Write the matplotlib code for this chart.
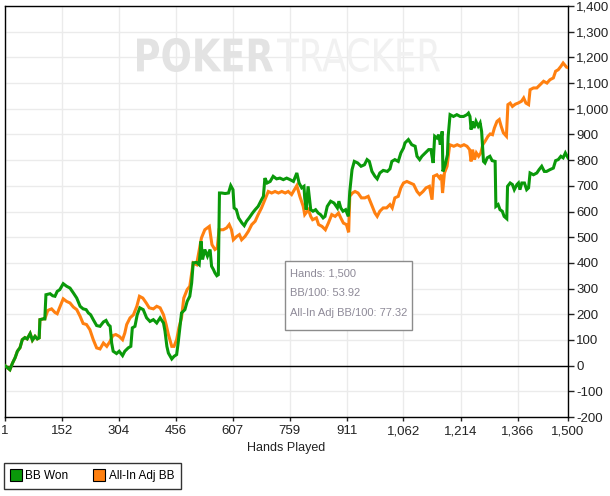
import matplotlib
matplotlib.use("Agg")
import matplotlib.pyplot as plt
from matplotlib.lines import Line2D
from matplotlib.patches import PathPatch, Rectangle
from matplotlib.textpath import TextPath
from matplotlib.font_manager import FontProperties
from matplotlib.transforms import Affine2D

# ---- data (hands played, cumulative BB) ----
hands_won = [1, 14, 21, 28, 34, 41, 47, 54, 60, 68, 74, 81, 87, 92, 94, 103, 107, 110,
             121, 128, 134, 140, 147, 156, 165, 174, 183, 192, 201, 209, 217, 223, 229,
             236, 245, 254, 263, 270, 276, 281, 285, 289, 298, 305, 314, 320, 329, 336,
             340, 347, 353, 360, 369, 378, 387, 396, 405, 414, 423, 427, 432, 436, 445,
             451, 458, 462, 471, 480, 486, 493, 498, 502, 511, 518, 523, 527, 533, 540,
             547, 551, 556, 560, 565, 569, 572, 578, 587, 596, 602, 608, 611, 617, 623,
             632, 638, 644, 651, 660, 667, 675, 684, 689, 693, 699, 707, 715, 724, 733,
             742, 751, 760, 769, 778, 784, 791, 797, 799, 803, 808, 812, 815, 821, 828,
             835, 841, 848, 853, 859, 868, 877, 886, 890, 895, 901, 908, 915, 919, 925,
             931, 940, 949, 958, 965, 971, 978, 986, 992, 999, 1008, 1019, 1026, 1031,
             1039, 1048, 1055, 1062, 1066, 1075, 1084, 1093, 1098, 1105, 1111, 1120,
             1129, 1135, 1141, 1145, 1151, 1156, 1160, 1165, 1167, 1173, 1179, 1181,
             1186, 1195, 1204, 1213, 1222, 1231, 1235, 1239, 1242, 1245, 1250, 1255,
             1261, 1266, 1270, 1275, 1279, 1285, 1292, 1298, 1306, 1308, 1314, 1319,
             1325, 1330, 1337, 1339, 1346, 1352, 1357, 1364, 1368, 1372, 1377, 1384,
             1390, 1395, 1399, 1408, 1417, 1423, 1430, 1437, 1443, 1452, 1461, 1467,
             1474, 1481, 1487, 1493, 1500]
bb_won = [0, -16, 10, 31, 56, 70, 101, 109, 104, 125, 99, 114, 104, 108, 179, 182, 182, 276,
          280, 272, 270, 289, 296, 319, 309, 302, 283, 263, 231, 221, 218, 205, 198,
          179, 156, 153, 170, 176, 160, 153, 88, 56, 47, 56, 39, 56, 69, 75,
          147, 153, 198, 225, 218, 186, 172, 179, 166, 186, 166, 134, 75, 49, 26,
          36, 43, 88, 205, 218, 250, 270, 322, 400, 402, 393, 484, 413, 452, 426,
          452, 387, 374, 361, 350, 354, 672, 672, 670, 672, 701, 685, 614, 607, 575,
          555, 545, 562, 575, 594, 607, 620, 646, 659, 730, 711, 717, 737, 727, 730,
          724, 730, 724, 717, 750, 711, 692, 698, 653, 607, 698, 646, 607, 601, 607,
          594, 588, 575, 581, 620, 640, 633, 614, 640, 614, 601, 607, 581, 678, 763,
          795, 789, 776, 782, 802, 795, 756, 737, 727, 750, 760, 756, 766, 795,
          802, 795, 828, 847, 867, 880, 860, 854, 815, 802, 815, 828,
          841, 841, 789, 893, 886, 899, 860, 912, 756, 782, 821, 893,
          977, 970, 977, 970, 970, 977, 983, 970, 919, 951, 925, 951,
          932, 945, 912, 795, 789, 809, 815, 798, 795, 620, 627, 607,
          601, 581, 572, 698, 711, 705, 685, 705, 711, 685, 711, 711,
          685, 692, 750, 743, 750, 763, 776, 756, 756, 763, 769, 798,
          802, 815, 809, 828, 809]

hands_adj = [1, 14, 21, 28, 34, 41, 47, 54, 60, 68, 74, 81, 87, 92, 94, 103, 107, 115,
             125, 134, 140, 147, 156, 165, 174, 183, 192, 201, 209, 218, 227, 236, 245,
             254, 263, 272, 281, 288, 296, 305, 314, 320, 325, 334, 343, 352, 359, 368,
             377, 385, 396, 405, 414, 423, 430, 436, 445, 451, 458, 464, 471, 477, 486,
             493, 502, 511, 524, 533, 545, 549, 552, 560, 566, 571, 582, 591, 598, 604,
             609, 618, 625, 631, 640, 649, 658, 667, 675, 684, 693, 702, 711, 720, 729,
             738, 747, 755, 764, 778, 786, 795, 799, 809, 815, 820, 830, 836, 845, 854,
             862, 871, 880, 889, 895, 902, 910, 916, 919, 926, 933, 941, 950, 959, 968,
             977, 986, 992, 999, 1008, 1017, 1026, 1032, 1039, 1048, 1055, 1062, 1071,
             1080, 1089, 1098, 1105, 1114, 1122, 1131, 1138, 1142, 1151, 1158, 1163,
             1166, 1171, 1178, 1185, 1196, 1205, 1214, 1223, 1231, 1238, 1242, 1246,
             1251, 1256, 1262, 1268, 1273, 1279, 1287, 1293, 1299, 1304, 1311, 1317,
             1322, 1328, 1336, 1340, 1346, 1352, 1360, 1367, 1376, 1382, 1388, 1395,
             1399, 1408, 1417, 1426, 1435, 1444, 1452, 1461, 1467, 1474, 1481, 1487,
             1496, 1500]
bb_adj = [0, -16, 10, 31, 56, 70, 101, 109, 104, 125, 99, 114, 104, 108, 179, 182, 182, 215,
          221, 207, 202, 228, 260, 250, 244, 228, 218, 192, 164, 160, 140, 101, 69,
          65, 88, 75, 95, 117, 121, 114, 101, 127, 160, 186, 198, 231, 270, 263,
          244, 225, 221, 231, 225, 198, 160, 121, 75, 75, 101, 147, 186, 263, 296,
          309, 400, 393, 497, 529, 542, 503, 471, 452, 458, 529, 529, 536, 549, 529,
          490, 503, 510, 490, 503, 523, 549, 562, 588, 614, 646, 678, 672, 678, 672,
          678, 672, 678, 666, 701, 659, 620, 588, 607, 581, 568, 575, 549, 542, 529,
          555, 588, 581, 594, 575, 555, 549, 519, 659, 672, 678, 672, 653, 653, 659,
          627, 594, 581, 601, 614, 614, 627, 614, 653, 659, 692, 711, 717,
          711, 705, 678, 666, 678, 692, 698, 646, 737, 743, 730, 743,
          672, 750, 776, 860, 854, 860, 854, 860, 854, 841, 795, 841,
          802, 828, 815, 828, 860, 873, 893, 902, 899, 925, 951, 958,
          932, 906, 893, 1016, 1022, 1009, 1018, 1022, 1029, 1042, 1022, 1016,
          1074, 1081, 1081, 1094, 1107, 1100, 1113, 1120, 1146, 1152, 1165, 1178,
          1162, 1160]

x_ticks = [1, 152, 304, 456, 607, 759, 911, 1062, 1214, 1366, 1500]
y_ticks = list(range(-200, 1401, 100))
series_names = ["BB Won", "All-In Adj BB"]
tooltip_lines = ["Hands: 1,500", "BB/100: 53.92", "All-In Adj BB/100: 77.32"]

GREEN = "#0a990a"
ORANGE = "#ff8010"
W, H = 610, 496

plt.rcParams["font.family"] = ["Liberation Sans", "DejaVu Sans"]
fig = plt.figure(figsize=(W / 100, H / 100), dpi=100)
ax = fig.add_axes([5 / W, 1 - 417 / H, 563 / W, 411 / H])

# watermark, squeezed into the box it occupies in the reference
def watermark(text, x0, x1, y0, y1, weight, color):
    tp = TextPath((0, 0), text, size=50, prop=FontProperties(family="DejaVu Sans", weight=weight))
    ext = tp.get_extents()
    sx = (x1 - x0) / ext.width
    sy = (y1 - y0) / ext.height
    tr = Affine2D().translate(-ext.x0, -ext.y0).scale(sx, sy).translate(x0, H - y1)
    fig.patches.append(PathPatch(tr.transform_path(tp), facecolor=color, edgecolor="none",
                                 transform=None, zorder=0))

watermark("POKER", 137, 273, 38, 72, "bold", "#e3e3e3")
watermark("TRACKER", 277, 440, 38, 72, "normal", "#f1f1f1")

ax.set_facecolor("none")
ax.set_xlim(1, 1500)
ax.set_ylim(-200, 1400)
ax.set_xticks(x_ticks)
ax.set_xticklabels([f"{t:,}" for t in x_ticks])
ax.set_yticks(y_ticks)
ax.set_yticklabels([f"{t:,}" for t in y_ticks])
ax.yaxis.tick_right()
ax.grid(True, color="#ebebeb", lw=1)
ax.set_axisbelow(True)
ax.tick_params(axis="y", length=4, width=1, pad=2, labelsize=9.5, colors="#222222")
ax.tick_params(axis="x", length=3, width=1, pad=3, labelsize=9.5, colors="#222222")
for s in ax.spines.values():
    s.set_color("black")
    s.set_linewidth(1)
ax.axhline(0, color="black", lw=1, zorder=2)

ax.plot(hands_adj, bb_adj, color=ORANGE, lw=2.2, zorder=3, solid_joinstyle="miter")
ax.plot(hands_won, bb_won, color=GREEN, lw=2.2, zorder=4, solid_joinstyle="miter")

ax.set_xlabel("Hands Played", fontsize=9, color="#222222", labelpad=3)

# tooltip box
tx0, tx1, ty0, ty1 = 285, 412, 261, 330
fig.patches.append(Rectangle((tx0 / W, 1 - ty1 / H), (tx1 - tx0) / W, (ty1 - ty0) / H,
                             transform=fig.transFigure, facecolor="white",
                             edgecolor="#8c8c8c", lw=1, zorder=5))
for i, line in enumerate(tooltip_lines):
    fig.text(290 / W, 1 - (273 + 20 * i) / H, line, fontsize=8, color="#8e8a98",
             va="center", ha="left", zorder=6)

handles = [Line2D([], [], ls="none", marker="s", markersize=8, markerfacecolor=c,
                  markeredgecolor="black", markeredgewidth=0.8) for c in (GREEN, ORANGE)]
leg = fig.legend(handles, series_names, loc="lower left", bbox_to_anchor=(4 / W, 7 / H),
                 ncol=2, frameon=True, fancybox=False, edgecolor="black", fontsize=8.5,
                 handlelength=0.8, handletextpad=0.4, columnspacing=2.2, borderpad=0.6,
                 borderaxespad=0)
leg.get_frame().set_linewidth(1)

fig.savefig("out.png", dpi=100)
